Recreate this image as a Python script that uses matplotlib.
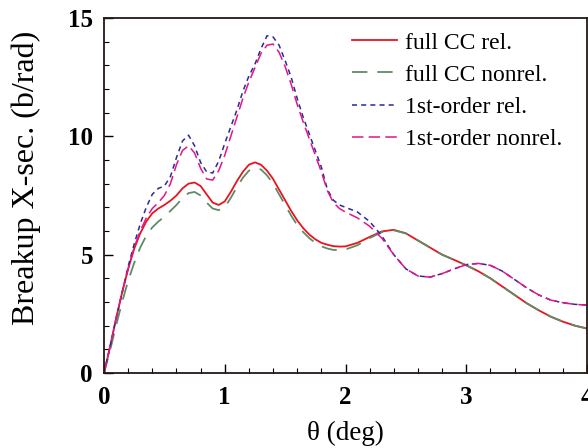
import matplotlib
matplotlib.use("Agg")
import matplotlib.pyplot as plt
from matplotlib.ticker import MultipleLocator

plt.rcParams['font.family'] = ['Liberation Serif', 'DejaVu Serif']

# theta (deg) grid used for all curves
theta = [0, 0.05, 0.1, 0.15, 0.2, 0.25, 0.3, 0.35, 0.4, 0.45, 0.5, 0.55, 0.6, 0.65, 0.7, 0.75,
         0.8, 0.85, 0.9, 0.95, 1.0, 1.05, 1.1, 1.15, 1.2, 1.25, 1.3, 1.35, 1.4, 1.45, 1.5, 1.55,
         1.6, 1.65, 1.7, 1.75, 1.8, 1.85, 1.9, 1.95, 2.0, 2.1, 2.2, 2.3, 2.4, 2.5, 2.6, 2.7,
         2.8, 2.9, 3.0, 3.1, 3.2, 3.3, 3.4, 3.5, 3.6, 3.7, 3.8, 3.9, 4.0]

full_cc_rel = [0, 1.1, 2.3, 3.4, 4.4, 5.25, 5.9, 6.4, 6.75, 6.95, 7.1, 7.28, 7.5, 7.8, 8.0, 8.05,
               7.9, 7.55, 7.2, 7.1, 7.25, 7.65, 8.1, 8.5, 8.8, 8.9, 8.8, 8.55, 8.2, 7.75, 7.3, 6.85,
               6.45, 6.12, 5.85, 5.65, 5.5, 5.42, 5.36, 5.34, 5.35, 5.5, 5.75, 5.98, 6.05, 5.9, 5.6, 5.3,
               5.0, 4.78, 4.55, 4.3, 4.0, 3.65, 3.3, 2.95, 2.65, 2.38, 2.17, 2.0, 1.88]

full_cc_nonrel = [0, 0.95, 2.0, 3.0, 3.9, 4.65, 5.3, 5.8, 6.15, 6.4, 6.6, 6.85, 7.1, 7.4, 7.6, 7.65,
                  7.5, 7.2, 6.95, 6.88, 7.0, 7.4, 7.85, 8.25, 8.55, 8.65, 8.6, 8.35, 8.0, 7.55, 7.1, 6.65,
                  6.25, 5.95, 5.7, 5.5, 5.35, 5.26, 5.2, 5.2, 5.22, 5.4, 5.7, 5.95, 6.03, 5.9, 5.6, 5.3,
                  5.0, 4.78, 4.55, 4.3, 4.0, 3.65, 3.3, 2.95, 2.65, 2.38, 2.17, 2.0, 1.88]

first_rel = [0, 1.1, 2.3, 3.4, 4.5, 5.45, 6.3, 7.0, 7.55, 7.8, 7.9, 8.3, 9.1, 9.8, 10.05, 9.6,
             8.9, 8.5, 8.45, 8.95, 9.7, 10.4, 11.1, 11.9, 12.55, 13.05, 13.7, 14.25, 14.2, 13.85, 13.2, 12.5,
             11.6, 10.8, 10.1, 9.4, 8.7, 7.75, 7.3, 7.1, 7.0, 6.8, 6.4, 5.8, 5.0, 4.4, 4.1, 4.05,
             4.2, 4.4, 4.58, 4.63, 4.55, 4.3, 3.95, 3.6, 3.3, 3.08, 2.97, 2.9, 2.87]

first_nonrel = [0, 1.1, 2.3, 3.4, 4.4, 5.3, 6.0, 6.55, 6.95, 7.2, 7.5, 8.0, 8.8, 9.4, 9.6, 9.3,
                8.65, 8.2, 8.15, 8.55, 9.2, 10.0, 10.8, 11.6, 12.3, 12.9, 13.5, 13.85, 13.9, 13.55, 12.95, 12.2,
                11.35, 10.6, 9.9, 9.2, 8.5, 7.7, 7.2, 6.95, 6.8, 6.55, 6.2, 5.7, 5.0, 4.4, 4.1, 4.05,
                4.2, 4.4, 4.58, 4.63, 4.55, 4.3, 3.95, 3.6, 3.3, 3.08, 2.97, 2.9, 2.87]

fig = plt.figure(figsize=(5.88, 4.48), dpi=100)
ax = fig.add_axes([104 / 588, 75 / 448, 483 / 588, 355 / 448])

ax.plot(theta, full_cc_rel, color='#e8141e', lw=1.3, label='full CC rel.')
ax.plot(theta, full_cc_nonrel, color='#5e8c68', lw=1.3, dashes=(8.5, 5.5), label='full CC nonrel.')
ax.plot(theta, first_rel, color='#2a2a96', lw=1.1, dashes=(3.3, 2.7), label='1st-order rel.')
ax.plot(theta, first_nonrel, color='#e0168a', lw=1.1, dashes=(7.5, 3.4), label='1st-order nonrel.')

ax.set_xlim(0, 4)
ax.set_ylim(0, 15)
ax.xaxis.set_major_locator(MultipleLocator(1))
ax.xaxis.set_minor_locator(MultipleLocator(0.2))
ax.yaxis.set_major_locator(MultipleLocator(5))
ax.yaxis.set_minor_locator(MultipleLocator(1))
ax.tick_params(which='both', direction='in', top=False, right=False)
ax.tick_params(which='major', length=6.5, width=1.0, labelsize=18)
ax.tick_params(which='minor', length=3.5, width=0.8)
ax.tick_params(axis='x', which='major', pad=9)
ax.tick_params(axis='y', which='major', pad=8)
for lab in ax.get_xticklabels() + ax.get_yticklabels():
    lab.set_fontweight('bold')
for sp in ax.spines.values():
    sp.set_linewidth(1.3)
    sp.set_color('#231815')

ax.set_xlabel('θ (deg)', fontsize=19.5, va='top')
ax.xaxis.set_label_coords(0.5, -0.135)
ax.set_ylabel('Breakup X-sec. (b/rad)', fontsize=23)
ax.yaxis.set_label_coords(-0.130, 0.55)

ax.legend(loc='upper left', frameon=False, fontsize=17, handlelength=1.9,
          handletextpad=0.35, labelspacing=0.45, borderpad=0, borderaxespad=0,
          bbox_to_anchor=((352 - 104) / 483, (373 - 32) / 355))

fig.savefig('out.png', dpi=100)
